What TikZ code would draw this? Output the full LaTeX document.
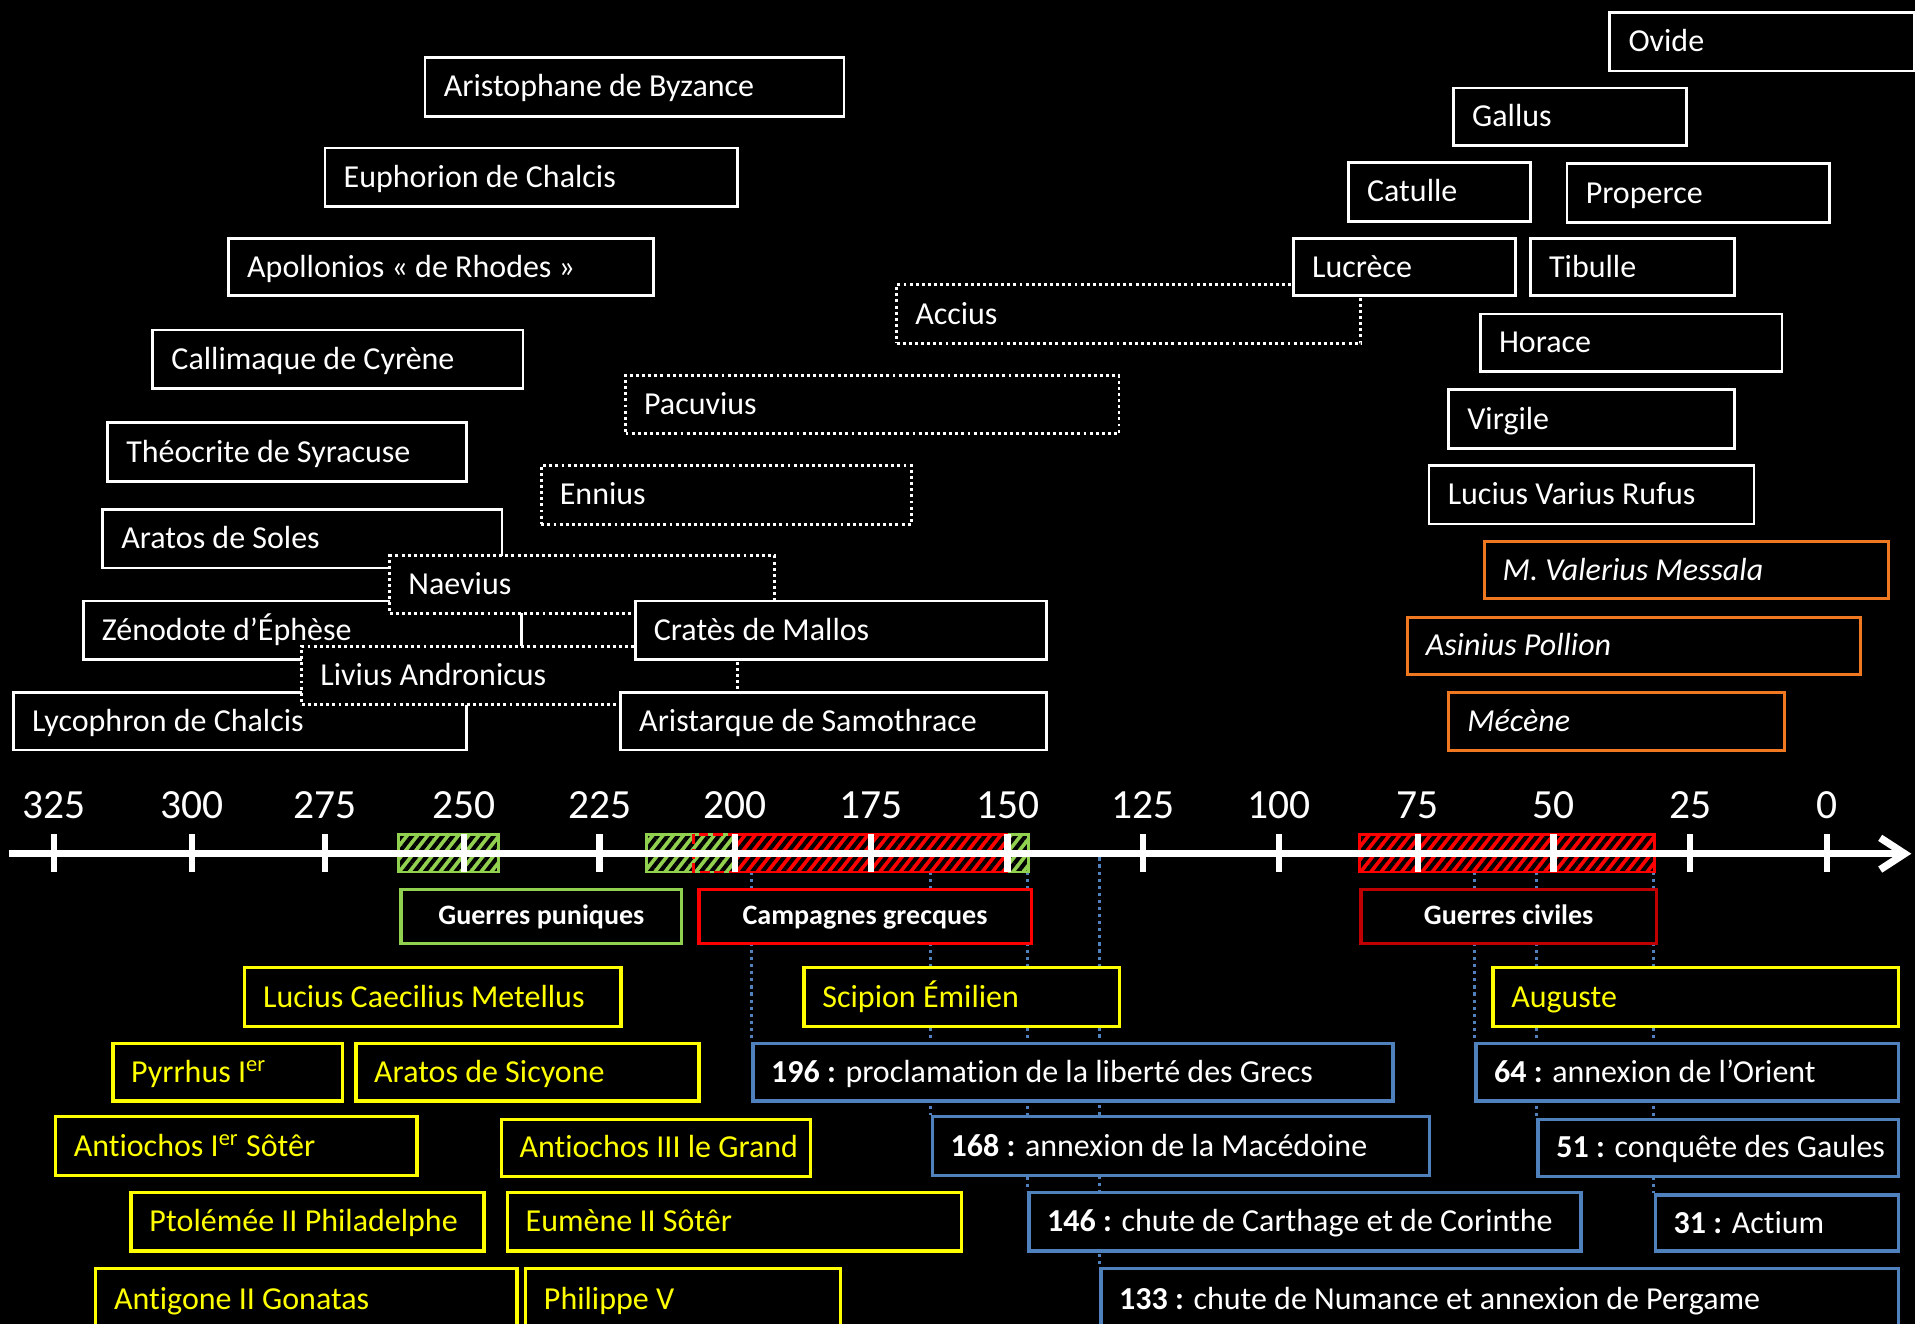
\documentclass[tikz,border=0pt]{standalone}
\usepackage{fontspec}
\setmainfont{Carlito}[Ligatures=NoCommon]
\usetikzlibrary{arrows.meta,patterns.meta}
\definecolor{ygold}{HTML}{FFFF00}
\definecolor{bblue}{HTML}{4F81BD}
\definecolor{ggreen}{HTML}{92D050}
\definecolor{rred}{HTML}{FF0000}
\definecolor{dred}{HTML}{C00000}
\definecolor{oorange}{HTML}{F07820}
\pgfdeclarelayer{back}
\pgfdeclarelayer{lines}
\pgfsetlayers{back,lines,main}
\newcommand\tbox[8]{%
  \node[#1, anchor=north west, minimum width={(#6-#4)*0.5pt}, minimum height={(#7-#5)*0.5pt}] (#3) at (#4,#5) {};
  \node[#2, anchor=west] (#3t) at ([xshift=8pt,yshift=-0.9pt]#3.west) {#8};}
\begin{document}
\begin{tikzpicture}[x=0.5pt,y=-0.5pt,
  box/.style={rectangle, draw, fill=black, line width=1.1pt, inner sep=0pt},
  wbox/.style={box, draw=white},
  dbox/.style={box, draw=white, line width=1.2pt, dash pattern=on 1.2pt off 1.3pt},
  obox/.style={box, draw=oorange, line width=1.3pt},
  ybox/.style={box, draw=ygold, line width=1.4pt},
  bbox/.style={box, draw=bblue, line width=1.4pt},
  wtxt/.style={text=white, font=\fontsize{13.1}{15}\selectfont, inner sep=0pt, text height=0.64em, text depth=0pt},
  itxt/.style={wtxt, font=\fontsize{13.1}{15}\selectfont\itshape},
  ytxt/.style={wtxt, text=ygold},
  evbox/.style={box, line width=1.3pt, text=white, font=\fontsize{11.5}{14}\selectfont\bfseries, text height=0.64em, text depth=0pt},
  yr/.style={text=white, font=\fontsize{17}{19}\selectfont, inner sep=0pt, text height=0.63em, text depth=0pt},
  tick/.style={draw=white, line width=2.6pt},
  hbar/.style={fill=#1, postaction={pattern={Lines[angle=52,distance=3.3pt,line width=1.7pt]}, pattern color=black}, postaction={draw=#1, line width=1.2pt}},
  bdot/.style={draw=bblue, line width=1.2pt, dash pattern=on 1.3pt off 1.6pt}
]
\begin{pgfonlayer}{back}
\fill[black] (0,0) rectangle (1568,1084);
\end{pgfonlayer}
\useasboundingbox (0,0) rectangle (1568,1084);

% bars
\path[hbar=ggreen] (326,683) rectangle (408,714);
\path[hbar=ggreen] (529,683) rectangle (842,714);
\draw[rred, line width=1.2pt, dash pattern=on 4pt off 2pt] (568,683) rectangle (603,714);
\path[hbar=rred] (603,683) rectangle (824,714);
\path[hbar=rred] (1113,683) rectangle (1355,714);

% axis
\coordinate (axstart) at (7,699);
\coordinate (axend) at (1565,699);
\draw[white, line width=3pt, -{Straight Barb[length=10pt,width=13pt]}] (axstart) -- (axend);
\foreach \x/\yv in {44/325,157/300,266/275,380/250,491/225,602/200,713/175,825/150,936/125,1047/100,1161/75,1272/50,1384/25,1496/0}{
  \draw[tick] (\x,683) -- (\x,714);
  \node[yr] (yr\yv) at (\x,664) {\yv};
}
\coordinate (barbot) at (0,714);
\coordinate (axbot) at (0,702);

% event labels
\node[evbox, draw=ggreen, anchor=north west, minimum width={(557-327)*0.5pt}, minimum height={(771-727)*0.5pt}] (puniques) at (327,727) {Guerres puniques};
\node[evbox, draw=rred, anchor=north west, minimum width={(843-571)*0.5pt}, minimum height={(771-727)*0.5pt}] (campagnes) at (571,727) {Campagnes grecques};
\node[evbox, draw=dred, anchor=north west, minimum width={(1355-1113)*0.5pt}, minimum height={(771-727)*0.5pt}] (civiles) at (1113,727) {Guerres civiles};

% upper left boxes
\tbox{wbox}{wtxt}{aristophane}{347}{46}{690}{94}{Aristophane de Byzance}
\tbox{wbox}{wtxt}{euphorion}{265}{120}{603}{168}{Euphorion de Chalcis}
\tbox{wbox}{wtxt}{apollonios}{186}{194}{534}{241}{Apollonios « de Rhodes »}
\tbox{wbox}{wtxt}{callimaque}{124}{269}{427}{317}{Callimaque de Cyrène}
\tbox{wbox}{wtxt}{theocrite}{87}{345}{381}{393}{Théocrite de Syracuse}
\tbox{wbox}{wtxt}{aratos}{83}{416}{410}{464}{Aratos de Soles}
\tbox{wbox}{wtxt}{zenodote}{67}{491}{426}{539}{Zénodote d’Éphèse}
\tbox{wbox}{wtxt}{lycophron}{10}{566}{381}{613}{Lycophron de Chalcis}
\tbox{dbox}{wtxt}{naevius}{318}{454}{633}{501}{Naevius}
\tbox{dbox}{wtxt}{livius}{246}{528}{603}{576}{Livius Andronicus}
\tbox{wbox}{wtxt}{crates}{519}{491}{856}{539}{Cratès de Mallos}
\tbox{wbox}{wtxt}{aristarque}{507}{566}{856}{613}{Aristarque de Samothrace}
\tbox{dbox}{wtxt}{ennius}{442}{380}{745}{428}{Ennius}
\tbox{dbox}{wtxt}{pacuvius}{511}{306}{915}{354}{Pacuvius}
\tbox{dbox}{wtxt}{accius}{733}{232}{1113}{280}{Accius}

% upper right boxes
\tbox{wbox}{wtxt}{ovide}{1317}{9}{1566}{57}{Ovide}
\tbox{wbox}{wtxt}{gallus}{1189}{71}{1380}{118}{Gallus}
\tbox{wbox}{wtxt}{catulle}{1103}{132}{1252}{180}{Catulle}
\tbox{wbox}{wtxt}{properce}{1282}{133}{1497}{181}{Properce}
\tbox{wbox}{wtxt}{lucrece}{1058}{194}{1240}{241}{Lucrèce}
\tbox{wbox}{wtxt}{tibulle}{1252}{194}{1419}{241}{Tibulle}
\tbox{wbox}{wtxt}{horace}{1211}{256}{1458}{303}{Horace}
\tbox{wbox}{wtxt}{virgile}{1185}{318}{1419}{366}{Virgile}
\tbox{wbox}{wtxt}{varius}{1169}{380}{1435}{428}{Lucius Varius Rufus}
\tbox{obox}{itxt}{messala}{1214}{442}{1545}{489}{M. Valerius Messala}
\tbox{obox}{itxt}{pollion}{1151}{504}{1522}{551}{Asinius Pollion}
\tbox{obox}{itxt}{mecene}{1185}{566}{1460}{613}{Mécène}

% lower yellow boxes
\tbox{ybox}{ytxt}{metellus}{199}{791}{507}{839}{Lucius Caecilius Metellus}
\tbox{ybox}{ytxt}{pyrrhus}{91}{853}{279}{900}{Pyrrhus I\textsuperscript{er}}
\tbox{ybox}{ytxt}{sicyone}{290}{853}{571}{900}{Aratos de Sicyone}
\tbox{ybox}{ytxt}{antiochosA}{44}{913}{340}{961}{Antiochos I\textsuperscript{er} Sôtêr}
\tbox{ybox}{ytxt}{antiochosC}{409}{915}{662}{962}{Antiochos III le Grand}
\tbox{ybox}{ytxt}{ptolemee}{106}{975}{395}{1023}{Ptolémée II Philadelphe}
\tbox{ybox}{ytxt}{eumene}{414}{975}{786}{1023}{Eumène II Sôtêr}
\tbox{ybox}{ytxt}{antigone}{77}{1037}{422}{1088}{Antigone II Gonatas}
\tbox{ybox}{ytxt}{philippe}{429}{1037}{687}{1088}{Philippe V}
\tbox{ybox}{ytxt}{scipion}{657}{791}{915}{839}{Scipion Émilien}
\tbox{ybox}{ytxt}{auguste}{1221}{791}{1553}{839}{Auguste}

% lower blue boxes
\tbox{bbox}{wtxt}{eA}{615}{853}{1139}{900}{\textbf{196 :} proclamation de la liberté des Grecs}
\tbox{bbox}{wtxt}{eB}{762}{913}{1169}{961}{\textbf{168 :} annexion de la Macédoine}
\tbox{bbox}{wtxt}{eC}{841}{975}{1293}{1023}{\textbf{146 :} chute de Carthage et de Corinthe}
\tbox{bbox}{wtxt}{eD}{900}{1037}{1553}{1088}{\textbf{133 :} chute de Numance et annexion de Pergame}
\tbox{bbox}{wtxt}{eE}{1207}{853}{1553}{900}{\textbf{64 :} annexion de l’Orient}
\tbox{bbox}{wtxt}{eF}{1258}{915}{1553}{962}{\textbf{51 :} conquête des Gaules}
\tbox{bbox}{wtxt}{eG}{1354}{977}{1553}{1023}{\textbf{31 :} Actium}

% dotted blue connectors
\begin{pgfonlayer}{lines}
\draw[bdot] (eA.north west |- barbot) -- (eA.north west);
\draw[bdot] (eB.north west |- barbot) -- (eB.north west);
\draw[bdot] (eC.north west |- barbot) -- (eC.north west);
\draw[bdot] (eD.north west |- axbot) -- (eD.north west);
\draw[bdot] (eE.north west |- barbot) -- (eE.north west);
\draw[bdot] (eF.north west |- barbot) -- (eF.north west);
\draw[bdot] (eG.north west |- barbot) -- (eG.north west);
\end{pgfonlayer}
\end{tikzpicture}
\end{document}
